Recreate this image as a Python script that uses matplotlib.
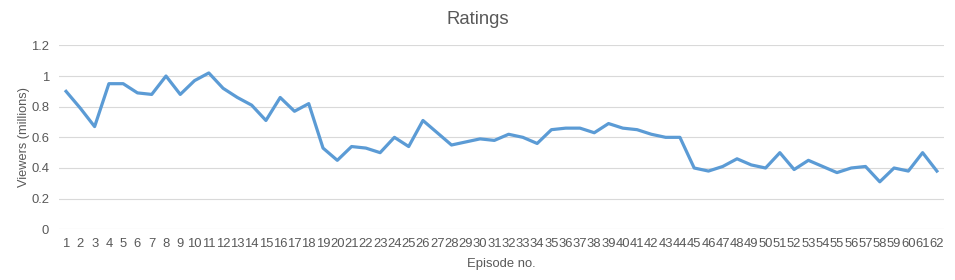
import matplotlib
matplotlib.use("Agg")
import matplotlib.pyplot as plt

plt.rcParams["font.family"] = ["Liberation Sans", "DejaVu Sans"]

episodes = list(range(1, 63))
viewers = [0.90, 0.79, 0.67, 0.95, 0.95, 0.89, 0.88, 1.00, 0.88, 0.97,
           1.02, 0.92, 0.86, 0.81, 0.71, 0.86, 0.77, 0.82, 0.53, 0.45,
           0.54, 0.53, 0.50, 0.60, 0.54, 0.71, 0.63, 0.55, 0.57, 0.59,
           0.58, 0.62, 0.60, 0.56, 0.65, 0.66, 0.66, 0.63, 0.69, 0.66,
           0.65, 0.62, 0.60, 0.60, 0.40, 0.38, 0.41, 0.46, 0.42, 0.40,
           0.50, 0.39, 0.45, 0.41, 0.37, 0.40, 0.41, 0.31, 0.40, 0.38,
           0.50, 0.38]
yticks = [0, 0.2, 0.4, 0.6, 0.8, 1, 1.2]
ytick_labels = ["0", "0.2", "0.4", "0.6", "0.8", "1", "1.2"]

text_col = "#595959"
fig = plt.figure(figsize=(9.55, 2.8), dpi=100)
ax = fig.add_axes([0.0617, 0.181, 0.9268, 0.657])

ax.plot(episodes, viewers, color="#5B9BD5", lw=2.3, solid_joinstyle="round")

ax.set_xlim(0.5, 62.5)
ax.set_ylim(0, 1.2)
ax.set_xticks(episodes)
ax.set_xticklabels([str(e) for e in episodes], fontsize=9.4, color=text_col)
ax.set_yticks(yticks)
ax.set_yticklabels(ytick_labels, fontsize=9.4, color=text_col)
ax.tick_params(axis="x", length=0, pad=6)
ax.tick_params(axis="y", length=0, pad=7)
ax.grid(axis="y", color="#D9D9D9", lw=0.8)
ax.set_axisbelow(True)
for s in ax.spines.values():
    s.set_visible(False)

ax.set_xlabel("Episode no.", fontsize=9.4, color=text_col, labelpad=6)
ax.set_ylabel("Viewers (millions)", fontsize=9.2, color=text_col, labelpad=0.5)
fig.text(0.5, 1 - 24 / 280, "Ratings", fontsize=13.3, color=text_col,
         ha="center", va="baseline")

fig.savefig("out.png", dpi=100)
